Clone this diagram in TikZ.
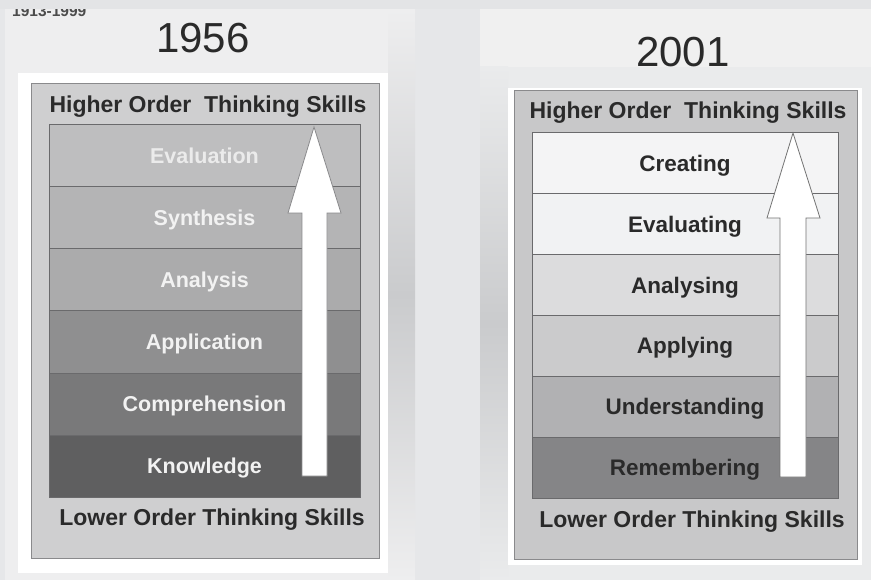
\documentclass[tikz,border=0pt]{standalone}
\usepackage{fontspec}
\setmainfont{Liberation Sans}
\definecolor{bgA}{HTML}{E6E7E9}
\definecolor{bgTop}{HTML}{E3E4E6}
\definecolor{panelL}{HTML}{EEEEEF}
\definecolor{panelR}{HTML}{EAEBEC}
\definecolor{panelRtop}{HTML}{F0F0F0}
\definecolor{stripMid}{HTML}{CACBCD}
\definecolor{innerL}{HTML}{CFCFD0}
\definecolor{innerR}{HTML}{C8C8C9}
\definecolor{frameedge}{HTML}{8A8A8C}
\definecolor{layeredge}{HTML}{6A6A6C}
\definecolor{lA}{HTML}{BEBEBF}
\definecolor{lB}{HTML}{B4B4B5}
\definecolor{lC}{HTML}{ABABAC}
\definecolor{lD}{HTML}{8F8F90}
\definecolor{lE}{HTML}{79797A}
\definecolor{lF}{HTML}{5F5F60}
\definecolor{rA}{HTML}{F4F4F5}
\definecolor{rB}{HTML}{F1F2F3}
\definecolor{rC}{HTML}{DCDCDD}
\definecolor{rD}{HTML}{CBCBCC}
\definecolor{rE}{HTML}{B1B1B3}
\definecolor{rF}{HTML}{858587}
\definecolor{ink}{HTML}{2A2A2A}
\definecolor{lighttext}{HTML}{F2F2F2}
\begin{document}
\begin{tikzpicture}[x=1pt,y=-1pt,
  layerL/.style={draw=layeredge, line width=1pt, minimum width=311pt, minimum height=62pt,
    inner sep=0pt, text height=15pt, text depth=0pt, text=lighttext,
    font=\bfseries\fontsize{21.5}{24}\selectfont},
  layerR/.style={draw=layeredge, line width=1pt, minimum width=306pt, minimum height=60.83pt,
    inner sep=0pt, text height=16pt, text depth=0pt, text=ink,
    font=\bfseries\fontsize{22.5}{25}\selectfont},
  heading/.style={anchor=base, inner sep=0pt, text=ink, font=\bfseries\fontsize{23}{26}\selectfont},
  yeartitle/.style={anchor=base, inner sep=0pt, text=ink, font=\fontsize{42}{46}\selectfont},
  upArrow/.style={fill=white, draw=frameedge, line width=0.8pt, line join=miter},
]
\useasboundingbox (0,0) rectangle (871,580);
% background
\fill[bgA] (0,0) rectangle (871,580);
\fill[panelL] (5,9) rectangle (415,580);
\shade[top color=panelL, bottom color=panelL, middle color=stripMid] (388,9) rectangle (415,580);
\fill[panelR] (480,9) rectangle (871,580);
\fill[panelRtop] (480,9) rectangle (871,67);
\shade[top color=panelR, bottom color=panelR, middle color=stripMid] (480,67) rectangle (508,580);
% small date text, clipped by top band
\node[anchor=base west, inner sep=0pt, text={black!70}, font=\bfseries\fontsize{15.5}{17}\selectfont] (dates) at (12,17) {1913-1999};
\fill[bgTop] (0,0) rectangle (871,9);
% titles
\node[yeartitle] (y1956) at (203,53) {1956};
\node[yeartitle] (y2001) at (683,66.5) {2001};
% left frame
\fill[white] (18,73) rectangle (388,573);
\filldraw[fill=innerL, draw=frameedge, line width=1pt] (31,84) rectangle (379,558);
\node[heading] (hoL) at (208,113) {Higher Order\ \ Thinking Skills};
\node[heading] (loL) at (212,525) {Lower Order Thinking Skills};
\node[layerL, fill=lA, text={black!8}] (evaluation) at (204.5,156) {Evaluation};
\node[layerL, fill=lB] (synthesis) at (204.5,218) {Synthesis};
\node[layerL, fill=lC] (analysis) at (204.5,280) {Analysis};
\node[layerL, fill=lD] (application) at (204.5,342) {Application};
\node[layerL, fill=lE] (comprehension) at (204.5,404) {Comprehension};
\node[layerL, fill=lF] (knowledge) at (204.5,466) {Knowledge};
\draw[upArrow] (314,127) -- (341,213) -- (327,213) -- (327,476) -- (302,476) -- (302,213) -- (288,213) -- cycle;
% right frame
\fill[white] (508,88) rectangle (862,565);
\filldraw[fill=innerR, draw=frameedge, line width=1pt] (514,91) rectangle (857,559);
\node[heading] (hoR) at (688,119) {Higher Order\ \ Thinking Skills};
\node[heading] (loR) at (692,527) {Lower Order Thinking Skills};
\node[layerR, fill=rA] (creating) at (685,163.4) {Creating};
\node[layerR, fill=rB] (evaluating) at (685,224.2) {Evaluating};
\node[layerR, fill=rC] (analysing) at (685,285.1) {Analysing};
\node[layerR, fill=rD] (applying) at (685,345.9) {Applying};
\node[layerR, fill=rE] (understanding) at (685,406.7) {Understanding};
\node[layerR, fill=rF] (remembering) at (685,467.6) {Remembering};
\draw[upArrow, draw={black!55}] (793,133) -- (820,218) -- (806,218) -- (806,477) -- (780,477) -- (780,218) -- (767,218) -- cycle;
\end{tikzpicture}
\end{document}
